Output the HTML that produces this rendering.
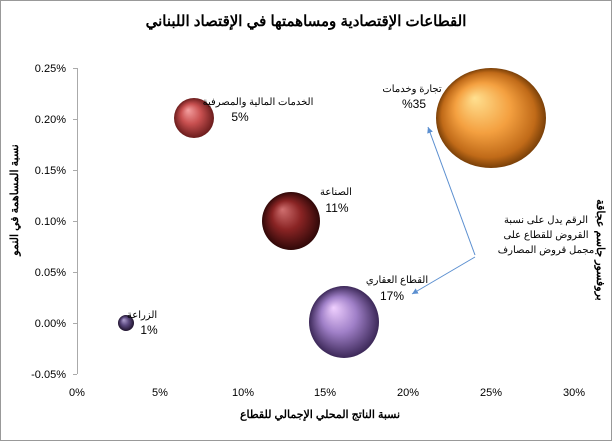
<!DOCTYPE html>
<html><head><meta charset="utf-8"><style>
body{margin:0;background:#fff}
svg{display:block;font-family:"Liberation Sans","Noto Sans CJK SC",sans-serif}
</style></head><body>
<svg width="612" height="441" viewBox="0 0 612 441" xmlns="http://www.w3.org/2000/svg">
<defs>
<radialGradient id="gO" cx="0.5" cy="0.5" r="0.5" fx="0.35" fy="0.3"><stop offset="0" stop-color="#ffe090"/><stop offset="0.5" stop-color="#f4a040"/><stop offset="0.85" stop-color="#c06a18"/><stop offset="1" stop-color="#7a4008"/></radialGradient>
<radialGradient id="gR" cx="0.5" cy="0.5" r="0.5" fx="0.35" fy="0.3"><stop offset="0" stop-color="#f4a0a0"/><stop offset="0.5" stop-color="#c85050"/><stop offset="1" stop-color="#6a1c1c"/></radialGradient>
<radialGradient id="gD" cx="0.5" cy="0.5" r="0.5" fx="0.35" fy="0.3"><stop offset="0" stop-color="#d07070"/><stop offset="0.5" stop-color="#8a2424"/><stop offset="1" stop-color="#300808"/></radialGradient>
<radialGradient id="gP" cx="0.5" cy="0.5" r="0.5" fx="0.35" fy="0.3"><stop offset="0" stop-color="#f0d0ff"/><stop offset="0.5" stop-color="#a080c8"/><stop offset="1" stop-color="#3c2858"/></radialGradient>
<radialGradient id="gA" cx="0.5" cy="0.5" r="0.5" fx="0.35" fy="0.3"><stop offset="0" stop-color="#b0a0d0"/><stop offset="0.5" stop-color="#5c4a80"/><stop offset="1" stop-color="#20142e"/></radialGradient>
<marker id="ar" markerWidth="8" markerHeight="8" refX="6" refY="3" orient="auto"><path d="M0,0 L6,3 L0,6 z" fill="#5b8fd0"/></marker>
</defs>
<rect x="0.5" y="0.5" width="611" height="440" fill="#fff" stroke="#999"/>
<text x="306" y="26" font-size="15" font-weight="bold" text-anchor="middle">القطاعات الإقتصادية ومساهمتها في الإقتصاد اللبناني</text>
<line x1="77.5" y1="68" x2="77.5" y2="374" stroke="#aaa"/>
<g stroke="#aaa"><line x1="73" y1="68.5" x2="77" y2="68.5"/><line x1="73" y1="119.5" x2="77" y2="119.5"/><line x1="73" y1="170.5" x2="77" y2="170.5"/><line x1="73" y1="221.5" x2="77" y2="221.5"/><line x1="73" y1="272.5" x2="77" y2="272.5"/><line x1="73" y1="323.5" x2="77" y2="323.5"/><line x1="73" y1="374.5" x2="77" y2="374.5"/></g>
<g font-size="11" text-anchor="end"><text x="66" y="72">0.25%</text><text x="66" y="123">0.20%</text><text x="66" y="174">0.15%</text><text x="66" y="225">0.10%</text><text x="66" y="276">0.05%</text><text x="66" y="327">0.00%</text><text x="66" y="378">-0.05%</text></g>
<g font-size="11" text-anchor="middle"><text x="77" y="396">0%</text><text x="160" y="396">5%</text><text x="243" y="396">10%</text><text x="325" y="396">15%</text><text x="408" y="396">20%</text><text x="491" y="396">25%</text><text x="574" y="396">30%</text></g>
<text x="320" y="418" font-size="11" font-weight="bold" text-anchor="middle">نسبة الناتج المحلي الإجمالي للقطاع</text>
<text transform="translate(18,200) rotate(-90)" font-size="11" font-weight="bold" text-anchor="middle">نسبة المساهمة في النمو</text>
<text transform="translate(597,250) rotate(90)" font-size="11" font-weight="bold" text-anchor="middle">بروفسور جاسم عجاقة</text>
<ellipse cx="491" cy="118" rx="55" ry="50" fill="url(#gO)"/>
<circle cx="194" cy="118" r="20" fill="url(#gR)"/>
<circle cx="291" cy="221" r="29" fill="url(#gD)"/>
<ellipse cx="344" cy="322" rx="35" ry="36" fill="url(#gP)"/>
<circle cx="126" cy="323" r="8" fill="url(#gA)"/>
<g font-size="10" text-anchor="middle">
<text x="258" y="105">الخدمات المالية والمصرفية</text><text x="240" y="121" font-size="12">5%</text>
<text x="412" y="92">تجارة وخدمات</text><text x="414" y="108" font-size="12">%35</text>
<text x="336" y="195">الصناعة</text><text x="337" y="212" font-size="12">11%</text>
<text x="397" y="283">القطاع العقاري</text><text x="392" y="300" font-size="12">17%</text>
<text x="142" y="318">الزراعة</text><text x="149" y="334" font-size="12">1%</text>
<text x="546" y="223">الرقم يدل على نسبة</text><text x="546" y="238">القروض للقطاع على</text><text x="546" y="253">مجمل قروض المصارف</text>
</g>
<line x1="475" y1="255" x2="428" y2="127" stroke="#5b8fd0" marker-end="url(#ar)"/>
<line x1="475" y1="257" x2="412" y2="294" stroke="#5b8fd0" marker-end="url(#ar)"/>
</svg>
</body></html>
